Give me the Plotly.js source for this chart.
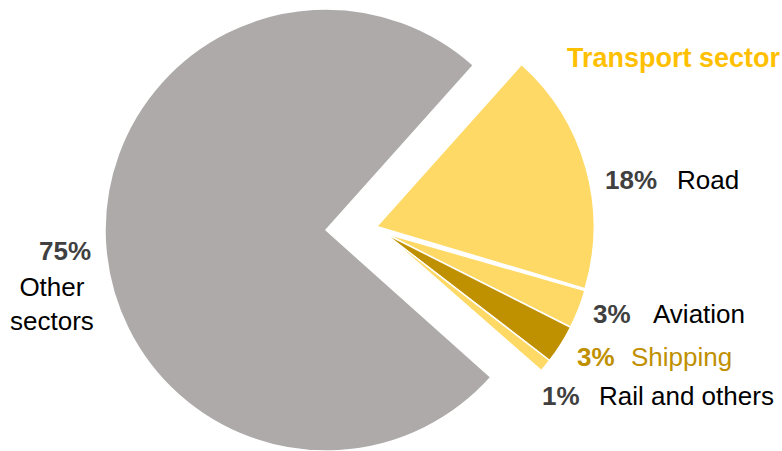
<!DOCTYPE html>
<html>
<head>
<meta charset="utf-8">
<script src="https://cdn.plot.ly/plotly-3.0.1.min.js"></script>
<style>html,body{margin:0;padding:0;background:#fff;}#chart{width:782px;height:451px;}</style>
</head>
<body>
<div id="chart"></div>
<script>
// ---- data ----
var categories = ['Road', 'Aviation', 'Shipping', 'Rail and others', 'Other sectors'];
var shares = [18, 3, 3, 1, 75];
var labelLines = ['Road', 'Aviation', 'Shipping', 'Rail and others', 'Other<br>sectors'];
var groupTitle = 'Transport sector';

// ---- styling ----
var W = 782, H = 451;
var GRAY = '#AEAAAA', LIGHT = '#FFD966', DARK = '#BF9000', NONE = 'rgba(0,0,0,0)';
var sliceColors = [LIGHT, LIGHT, DARK, LIGHT, GRAY];
var FONT = 'Liberation Sans, Arial, sans-serif';

function dom(cx, cy, r) {
  return {x: [(cx - r) / W, (cx + r) / W], y: [1 - (cy + r) / H, 1 - (cy - r) / H]};
}
// which slices each pie layer shows
function layer(show, d, rot) {
  var cols = [], widths = [];
  for (var i = 0; i < categories.length; i++) {
    var on = show.indexOf(i) >= 0;
    cols.push(on ? sliceColors[i] : NONE);
    widths.push(on ? 1.5 : 0);
  }
  return {
    type: 'pie', labels: categories, values: shares, sort: false,
    direction: 'clockwise', rotation: rot, textinfo: 'none', hoverinfo: 'label+percent',
    showlegend: false, domain: d,
    marker: {colors: cols, line: {color: '#ffffff', width: widths}}
  };
}

var traces = [
  layer([4], dom(326, 230, 221), 41.8),
  layer([1, 2, 3], dom(384, 233, 209), 41.2),
  layer([0], dom(376.7, 226.5, 217.5), 41.8)
];

// ---- labels ----
var pctColor = ['#404040', '#404040', DARK, '#404040', '#404040'];
var nameColor = ['#000000', '#000000', DARK, '#000000', '#000000'];
var pctPos = [[603, 180], [591, 314], [575, 357], [540, 396], [64.5, 251]];
var namePos = [[675, 180], [651, 314], [629, 357], [597, 396], [52, 304]];
var anns = [];
for (var i = 0; i < categories.length; i++) {
  var last = i === categories.length - 1;
  anns.push({
    xref: 'paper', yref: 'paper', x: pctPos[i][0] / W, y: 1 - pctPos[i][1] / H,
    xanchor: last ? 'center' : 'left', yanchor: 'middle', showarrow: false,
    text: '<b>' + shares[i] + '%</b>', font: {family: FONT, size: 26, color: pctColor[i]}
  });
  anns.push({
    xref: 'paper', yref: 'paper', x: namePos[i][0] / W, y: 1 - namePos[i][1] / H,
    xanchor: last ? 'center' : 'left', yanchor: 'middle', showarrow: false,
    text: labelLines[i], font: {family: FONT, size: 26, color: nameColor[i]}
  });
}
anns.push({
  xref: 'paper', yref: 'paper', x: 565 / W, y: 1 - 58 / H, xanchor: 'left', yanchor: 'middle',
  showarrow: false, text: '<b>' + groupTitle + '</b>', font: {family: FONT, size: 27, color: '#FFC000'}
});

var layout = {
  width: W, height: H, margin: {l: 0, r: 0, t: 0, b: 0},
  paper_bgcolor: '#ffffff', plot_bgcolor: '#ffffff',
  showlegend: false, annotations: anns
};
Plotly.newPlot('chart', traces, layout, {displayModeBar: false, staticPlot: true});
</script>
</body>
</html>
